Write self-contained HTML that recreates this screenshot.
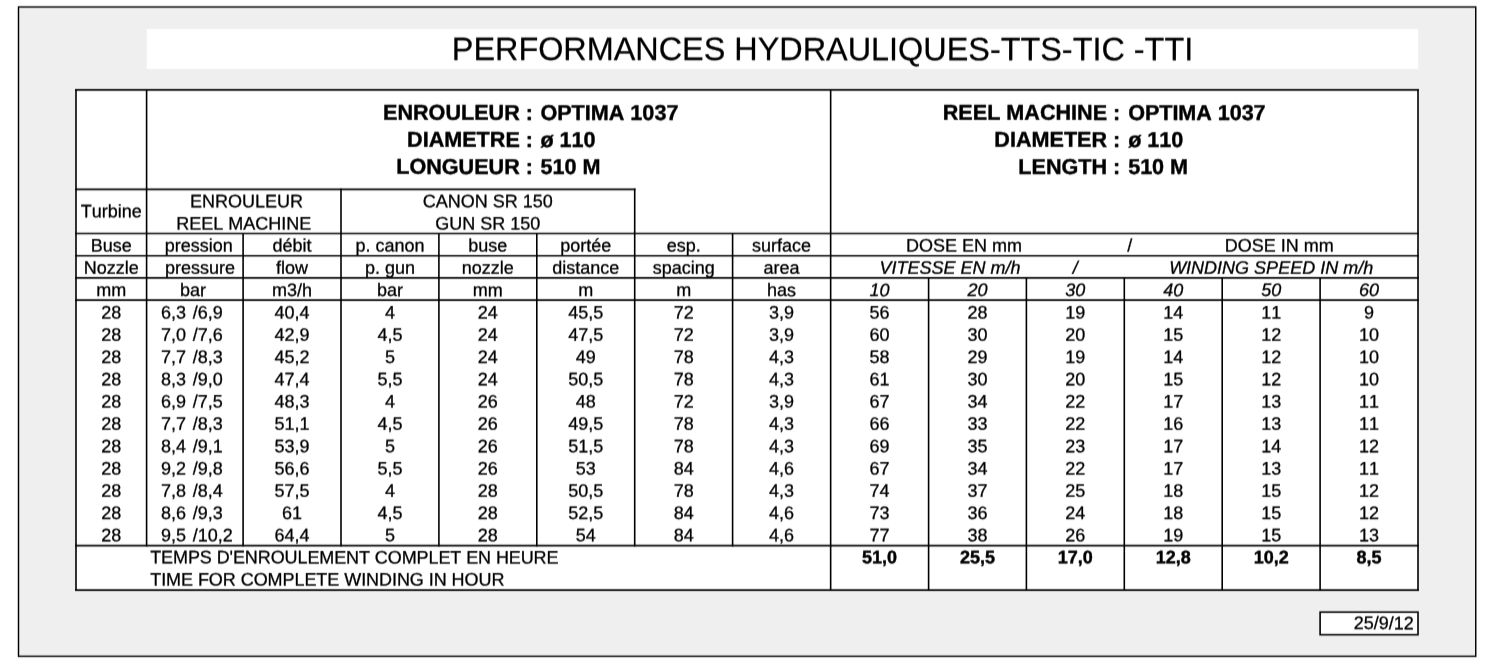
<!DOCTYPE html>
<html lang="fr">
<head>
<meta charset="utf-8">
<title>Performances hydrauliques - TTS-TIC-TTI</title>
<style>
html,body{margin:0;padding:0;background:#fff;}
body{width:1498px;height:670px;overflow:hidden;}
svg{display:block;}
text{font-family:"Liberation Sans",Arial,Helvetica,sans-serif;font-size:18.0px;fill:#000;font-kerning:none;stroke:#000;stroke-width:0.3px;stroke-linejoin:round;}
text.t{font-size:32.4px;stroke-width:0.25px;}
text.b{font-size:21.6px;font-weight:bold;stroke-width:0.42px;}
text.n{font-weight:bold;stroke-width:0.45px;}
text.i{font-style:italic;}
</style>
</head>
<body>
<svg width="1498" height="670" viewBox="0 0 1498 670">
<defs><filter id="vb" filterUnits="userSpaceOnUse" x="0" y="0" width="1498" height="670" color-interpolation-filters="sRGB"><feConvolveMatrix order="1 3" kernelMatrix="0.15 0.700 0.15" edgeMode="duplicate" preserveAlpha="true"/></filter></defs>
<rect x="0" y="0" width="1498" height="670" fill="#fff"/>
<g filter="url(#vb)">
<rect x="0" y="0" width="1498" height="670" fill="#fff"/>
<rect x="18.5" y="7" width="1457.25" height="649.35" fill="#efefef" stroke="#000" stroke-width="1.45"/>
<rect x="146.8" y="29.1" width="1271.40" height="39.80" fill="#fff"/>
<rect x="76.0" y="89.9" width="1342.00" height="500.25" fill="#fff"/>
<rect x="1320.1" y="612.15" width="97.90" height="22.55" fill="#fff" stroke="#000" stroke-width="1.6"/>
<g stroke="#000" stroke-linecap="square">
<line x1="76.00" y1="89.90" x2="1418.00" y2="89.90" stroke-width="1.6"/>
<line x1="76.00" y1="189.40" x2="634.70" y2="189.40" stroke-width="1.6"/>
<line x1="76.00" y1="233.55" x2="1418.00" y2="233.55" stroke-width="1.6"/>
<line x1="76.00" y1="255.75" x2="1418.00" y2="255.75" stroke-width="1.6"/>
<line x1="76.00" y1="277.90" x2="1418.00" y2="277.90" stroke-width="1.6"/>
<line x1="76.00" y1="300.10" x2="1418.00" y2="300.10" stroke-width="1.6"/>
<line x1="76.00" y1="545.65" x2="1418.00" y2="545.65" stroke-width="1.6"/>
<line x1="76.00" y1="590.15" x2="1418.00" y2="590.15" stroke-width="1.6"/>
<line x1="76.00" y1="89.90" x2="76.00" y2="590.15" stroke-width="1.6"/>
<line x1="146.60" y1="89.90" x2="146.60" y2="545.65" stroke-width="1.6"/>
<line x1="243.10" y1="233.70" x2="243.10" y2="545.65" stroke-width="1.6"/>
<line x1="341.00" y1="189.40" x2="341.00" y2="545.65" stroke-width="1.6"/>
<line x1="438.90" y1="233.70" x2="438.90" y2="545.65" stroke-width="1.6"/>
<line x1="536.80" y1="233.70" x2="536.80" y2="545.65" stroke-width="1.6"/>
<line x1="634.70" y1="189.40" x2="634.70" y2="545.65" stroke-width="1.6"/>
<line x1="732.60" y1="233.70" x2="732.60" y2="545.65" stroke-width="1.6"/>
<line x1="830.65" y1="89.90" x2="830.65" y2="590.15" stroke-width="1.6"/>
<line x1="928.60" y1="277.90" x2="928.60" y2="590.15" stroke-width="1.6"/>
<line x1="1026.40" y1="277.90" x2="1026.40" y2="590.15" stroke-width="1.6"/>
<line x1="1124.30" y1="277.90" x2="1124.30" y2="590.15" stroke-width="1.6"/>
<line x1="1222.20" y1="277.90" x2="1222.20" y2="590.15" stroke-width="1.6"/>
<line x1="1320.10" y1="277.90" x2="1320.10" y2="590.15" stroke-width="1.6"/>
<line x1="1418.00" y1="89.90" x2="1418.00" y2="590.15" stroke-width="1.6"/>
</g>
<text x="822.50" y="60.15" transform="rotate(0.03 822.50 60.15)" text-anchor="middle" class="t">PERFORMANCES HYDRAULIQUES-TTS-TIC -TTI</text>
<text x="533.00" y="119.90" transform="rotate(0.03 533.00 119.90)" text-anchor="end" class="b">ENROULEUR :</text>
<text x="540.40" y="119.90" transform="rotate(0.03 540.40 119.90)" class="b">OPTIMA 1037</text>
<text x="533.00" y="146.90" transform="rotate(0.03 533.00 146.90)" text-anchor="end" class="b">DIAMETRE :</text>
<text x="540.40" y="146.90" transform="rotate(0.03 540.40 146.90)" class="b">ø 110</text>
<text x="533.00" y="173.95" transform="rotate(0.03 533.00 173.95)" text-anchor="end" class="b">LONGUEUR :</text>
<text x="540.40" y="173.95" transform="rotate(0.03 540.40 173.95)" class="b">510 M</text>
<text x="1120.30" y="119.90" transform="rotate(0.03 1120.30 119.90)" text-anchor="end" class="b">REEL MACHINE :</text>
<text x="1128.20" y="119.90" transform="rotate(0.03 1128.20 119.90)" class="b" letter-spacing="-0.06">OPTIMA 1037</text>
<text x="1120.30" y="146.90" transform="rotate(0.03 1120.30 146.90)" text-anchor="end" class="b">DIAMETER :</text>
<text x="1128.20" y="146.90" transform="rotate(0.03 1128.20 146.90)" class="b" letter-spacing="-0.06">ø 110</text>
<text x="1120.30" y="173.95" transform="rotate(0.03 1120.30 173.95)" text-anchor="end" class="b">LENGTH :</text>
<text x="1128.20" y="173.95" transform="rotate(0.03 1128.20 173.95)" class="b" letter-spacing="-0.06">510 M</text>
<text x="111.30" y="217.25" transform="rotate(0.03 111.30 217.25)" text-anchor="middle">Turbine</text>
<text x="246.50" y="207.20" transform="rotate(0.03 246.50 207.20)" text-anchor="middle">ENROULEUR</text>
<text x="243.80" y="229.50" transform="rotate(0.03 243.80 229.50)" text-anchor="middle">REEL MACHINE</text>
<text x="487.85" y="207.20" transform="rotate(0.03 487.85 207.20)" text-anchor="middle">CANON SR 150</text>
<text x="487.85" y="229.50" transform="rotate(0.03 487.85 229.50)" text-anchor="middle">GUN SR 150</text>
<text x="111.30" y="251.55" transform="rotate(0.03 111.30 251.55)" text-anchor="middle">Buse</text>
<text x="198.80" y="251.55" transform="rotate(0.03 198.80 251.55)" text-anchor="middle">pression</text>
<text x="292.05" y="251.55" transform="rotate(0.03 292.05 251.55)" text-anchor="middle">débit</text>
<text x="389.95" y="251.55" transform="rotate(0.03 389.95 251.55)" text-anchor="middle">p. canon</text>
<text x="487.85" y="251.55" transform="rotate(0.03 487.85 251.55)" text-anchor="middle">buse</text>
<text x="585.75" y="251.55" transform="rotate(0.03 585.75 251.55)" text-anchor="middle">portée</text>
<text x="683.65" y="251.55" transform="rotate(0.03 683.65 251.55)" text-anchor="middle">esp.</text>
<text x="781.62" y="251.55" transform="rotate(0.03 781.62 251.55)" text-anchor="middle">surface</text>
<text x="111.30" y="273.84" transform="rotate(0.03 111.30 273.84)" text-anchor="middle">Nozzle</text>
<text x="200.00" y="273.84" transform="rotate(0.03 200.00 273.84)" text-anchor="middle">pressure</text>
<text x="292.05" y="273.84" transform="rotate(0.03 292.05 273.84)" text-anchor="middle">flow</text>
<text x="389.95" y="273.84" transform="rotate(0.03 389.95 273.84)" text-anchor="middle">p. gun</text>
<text x="487.85" y="273.84" transform="rotate(0.03 487.85 273.84)" text-anchor="middle">nozzle</text>
<text x="585.75" y="273.84" transform="rotate(0.03 585.75 273.84)" text-anchor="middle">distance</text>
<text x="683.65" y="273.84" transform="rotate(0.03 683.65 273.84)" text-anchor="middle">spacing</text>
<text x="781.62" y="273.84" transform="rotate(0.03 781.62 273.84)" text-anchor="middle">area</text>
<text x="111.30" y="296.13" transform="rotate(0.03 111.30 296.13)" text-anchor="middle">mm</text>
<text x="193.00" y="296.13" transform="rotate(0.03 193.00 296.13)" text-anchor="middle">bar</text>
<text x="292.05" y="296.13" transform="rotate(0.03 292.05 296.13)" text-anchor="middle">m3/h</text>
<text x="389.95" y="296.13" transform="rotate(0.03 389.95 296.13)" text-anchor="middle">bar</text>
<text x="487.85" y="296.13" transform="rotate(0.03 487.85 296.13)" text-anchor="middle">mm</text>
<text x="585.75" y="296.13" transform="rotate(0.03 585.75 296.13)" text-anchor="middle">m</text>
<text x="683.65" y="296.13" transform="rotate(0.03 683.65 296.13)" text-anchor="middle">m</text>
<text x="781.62" y="296.13" transform="rotate(0.03 781.62 296.13)" text-anchor="middle">has</text>
<text x="964.00" y="251.55" transform="rotate(0.03 964.00 251.55)" text-anchor="middle">DOSE EN mm</text>
<text x="1129.80" y="251.55" transform="rotate(0.03 1129.80 251.55)" text-anchor="middle">/</text>
<text x="1279.30" y="251.55" transform="rotate(0.03 1279.30 251.55)" text-anchor="middle">DOSE IN mm</text>
<text x="950.00" y="273.84" transform="rotate(0.03 950.00 273.84)" text-anchor="middle" class="i">VITESSE EN m/h</text>
<text x="1075.35" y="273.84" transform="rotate(0.03 1075.35 273.84)" text-anchor="middle" class="i">/</text>
<text x="1271.15" y="273.84" transform="rotate(0.03 1271.15 273.84)" text-anchor="middle" class="i">WINDING SPEED IN m/h</text>
<text x="879.62" y="296.13" transform="rotate(0.03 879.62 296.13)" text-anchor="middle" class="i">10</text>
<text x="977.50" y="296.13" transform="rotate(0.03 977.50 296.13)" text-anchor="middle" class="i">20</text>
<text x="1075.35" y="296.13" transform="rotate(0.03 1075.35 296.13)" text-anchor="middle" class="i">30</text>
<text x="1173.25" y="296.13" transform="rotate(0.03 1173.25 296.13)" text-anchor="middle" class="i">40</text>
<text x="1271.15" y="296.13" transform="rotate(0.03 1271.15 296.13)" text-anchor="middle" class="i">50</text>
<text x="1369.05" y="296.13" transform="rotate(0.03 1369.05 296.13)" text-anchor="middle" class="i">60</text>
<text x="111.30" y="318.42" transform="rotate(0.03 111.30 318.42)" text-anchor="middle">28</text>
<text x="161.00" y="318.42" transform="rotate(0.03 161.00 318.42)">6,3</text>
<text x="192.70" y="318.42" transform="rotate(0.03 192.70 318.42)">/6,9</text>
<text x="292.05" y="318.42" transform="rotate(0.03 292.05 318.42)" text-anchor="middle">40,4</text>
<text x="389.95" y="318.42" transform="rotate(0.03 389.95 318.42)" text-anchor="middle">4</text>
<text x="487.85" y="318.42" transform="rotate(0.03 487.85 318.42)" text-anchor="middle">24</text>
<text x="585.75" y="318.42" transform="rotate(0.03 585.75 318.42)" text-anchor="middle">45,5</text>
<text x="683.65" y="318.42" transform="rotate(0.03 683.65 318.42)" text-anchor="middle">72</text>
<text x="781.62" y="318.42" transform="rotate(0.03 781.62 318.42)" text-anchor="middle">3,9</text>
<text x="879.62" y="318.42" transform="rotate(0.03 879.62 318.42)" text-anchor="middle">56</text>
<text x="977.50" y="318.42" transform="rotate(0.03 977.50 318.42)" text-anchor="middle">28</text>
<text x="1075.35" y="318.42" transform="rotate(0.03 1075.35 318.42)" text-anchor="middle">19</text>
<text x="1173.25" y="318.42" transform="rotate(0.03 1173.25 318.42)" text-anchor="middle">14</text>
<text x="1271.15" y="318.42" transform="rotate(0.03 1271.15 318.42)" text-anchor="middle">11</text>
<text x="1369.05" y="318.42" transform="rotate(0.03 1369.05 318.42)" text-anchor="middle">9</text>
<text x="111.30" y="340.71" transform="rotate(0.03 111.30 340.71)" text-anchor="middle">28</text>
<text x="161.00" y="340.71" transform="rotate(0.03 161.00 340.71)">7,0</text>
<text x="192.70" y="340.71" transform="rotate(0.03 192.70 340.71)">/7,6</text>
<text x="292.05" y="340.71" transform="rotate(0.03 292.05 340.71)" text-anchor="middle">42,9</text>
<text x="389.95" y="340.71" transform="rotate(0.03 389.95 340.71)" text-anchor="middle">4,5</text>
<text x="487.85" y="340.71" transform="rotate(0.03 487.85 340.71)" text-anchor="middle">24</text>
<text x="585.75" y="340.71" transform="rotate(0.03 585.75 340.71)" text-anchor="middle">47,5</text>
<text x="683.65" y="340.71" transform="rotate(0.03 683.65 340.71)" text-anchor="middle">72</text>
<text x="781.62" y="340.71" transform="rotate(0.03 781.62 340.71)" text-anchor="middle">3,9</text>
<text x="879.62" y="340.71" transform="rotate(0.03 879.62 340.71)" text-anchor="middle">60</text>
<text x="977.50" y="340.71" transform="rotate(0.03 977.50 340.71)" text-anchor="middle">30</text>
<text x="1075.35" y="340.71" transform="rotate(0.03 1075.35 340.71)" text-anchor="middle">20</text>
<text x="1173.25" y="340.71" transform="rotate(0.03 1173.25 340.71)" text-anchor="middle">15</text>
<text x="1271.15" y="340.71" transform="rotate(0.03 1271.15 340.71)" text-anchor="middle">12</text>
<text x="1369.05" y="340.71" transform="rotate(0.03 1369.05 340.71)" text-anchor="middle">10</text>
<text x="111.30" y="363.00" transform="rotate(0.03 111.30 363.00)" text-anchor="middle">28</text>
<text x="161.00" y="363.00" transform="rotate(0.03 161.00 363.00)">7,7</text>
<text x="192.70" y="363.00" transform="rotate(0.03 192.70 363.00)">/8,3</text>
<text x="292.05" y="363.00" transform="rotate(0.03 292.05 363.00)" text-anchor="middle">45,2</text>
<text x="389.95" y="363.00" transform="rotate(0.03 389.95 363.00)" text-anchor="middle">5</text>
<text x="487.85" y="363.00" transform="rotate(0.03 487.85 363.00)" text-anchor="middle">24</text>
<text x="585.75" y="363.00" transform="rotate(0.03 585.75 363.00)" text-anchor="middle">49</text>
<text x="683.65" y="363.00" transform="rotate(0.03 683.65 363.00)" text-anchor="middle">78</text>
<text x="781.62" y="363.00" transform="rotate(0.03 781.62 363.00)" text-anchor="middle">4,3</text>
<text x="879.62" y="363.00" transform="rotate(0.03 879.62 363.00)" text-anchor="middle">58</text>
<text x="977.50" y="363.00" transform="rotate(0.03 977.50 363.00)" text-anchor="middle">29</text>
<text x="1075.35" y="363.00" transform="rotate(0.03 1075.35 363.00)" text-anchor="middle">19</text>
<text x="1173.25" y="363.00" transform="rotate(0.03 1173.25 363.00)" text-anchor="middle">14</text>
<text x="1271.15" y="363.00" transform="rotate(0.03 1271.15 363.00)" text-anchor="middle">12</text>
<text x="1369.05" y="363.00" transform="rotate(0.03 1369.05 363.00)" text-anchor="middle">10</text>
<text x="111.30" y="385.29" transform="rotate(0.03 111.30 385.29)" text-anchor="middle">28</text>
<text x="161.00" y="385.29" transform="rotate(0.03 161.00 385.29)">8,3</text>
<text x="192.70" y="385.29" transform="rotate(0.03 192.70 385.29)">/9,0</text>
<text x="292.05" y="385.29" transform="rotate(0.03 292.05 385.29)" text-anchor="middle">47,4</text>
<text x="389.95" y="385.29" transform="rotate(0.03 389.95 385.29)" text-anchor="middle">5,5</text>
<text x="487.85" y="385.29" transform="rotate(0.03 487.85 385.29)" text-anchor="middle">24</text>
<text x="585.75" y="385.29" transform="rotate(0.03 585.75 385.29)" text-anchor="middle">50,5</text>
<text x="683.65" y="385.29" transform="rotate(0.03 683.65 385.29)" text-anchor="middle">78</text>
<text x="781.62" y="385.29" transform="rotate(0.03 781.62 385.29)" text-anchor="middle">4,3</text>
<text x="879.62" y="385.29" transform="rotate(0.03 879.62 385.29)" text-anchor="middle">61</text>
<text x="977.50" y="385.29" transform="rotate(0.03 977.50 385.29)" text-anchor="middle">30</text>
<text x="1075.35" y="385.29" transform="rotate(0.03 1075.35 385.29)" text-anchor="middle">20</text>
<text x="1173.25" y="385.29" transform="rotate(0.03 1173.25 385.29)" text-anchor="middle">15</text>
<text x="1271.15" y="385.29" transform="rotate(0.03 1271.15 385.29)" text-anchor="middle">12</text>
<text x="1369.05" y="385.29" transform="rotate(0.03 1369.05 385.29)" text-anchor="middle">10</text>
<text x="111.30" y="407.58" transform="rotate(0.03 111.30 407.58)" text-anchor="middle">28</text>
<text x="161.00" y="407.58" transform="rotate(0.03 161.00 407.58)">6,9</text>
<text x="192.70" y="407.58" transform="rotate(0.03 192.70 407.58)">/7,5</text>
<text x="292.05" y="407.58" transform="rotate(0.03 292.05 407.58)" text-anchor="middle">48,3</text>
<text x="389.95" y="407.58" transform="rotate(0.03 389.95 407.58)" text-anchor="middle">4</text>
<text x="487.85" y="407.58" transform="rotate(0.03 487.85 407.58)" text-anchor="middle">26</text>
<text x="585.75" y="407.58" transform="rotate(0.03 585.75 407.58)" text-anchor="middle">48</text>
<text x="683.65" y="407.58" transform="rotate(0.03 683.65 407.58)" text-anchor="middle">72</text>
<text x="781.62" y="407.58" transform="rotate(0.03 781.62 407.58)" text-anchor="middle">3,9</text>
<text x="879.62" y="407.58" transform="rotate(0.03 879.62 407.58)" text-anchor="middle">67</text>
<text x="977.50" y="407.58" transform="rotate(0.03 977.50 407.58)" text-anchor="middle">34</text>
<text x="1075.35" y="407.58" transform="rotate(0.03 1075.35 407.58)" text-anchor="middle">22</text>
<text x="1173.25" y="407.58" transform="rotate(0.03 1173.25 407.58)" text-anchor="middle">17</text>
<text x="1271.15" y="407.58" transform="rotate(0.03 1271.15 407.58)" text-anchor="middle">13</text>
<text x="1369.05" y="407.58" transform="rotate(0.03 1369.05 407.58)" text-anchor="middle">11</text>
<text x="111.30" y="429.87" transform="rotate(0.03 111.30 429.87)" text-anchor="middle">28</text>
<text x="161.00" y="429.87" transform="rotate(0.03 161.00 429.87)">7,7</text>
<text x="192.70" y="429.87" transform="rotate(0.03 192.70 429.87)">/8,3</text>
<text x="292.05" y="429.87" transform="rotate(0.03 292.05 429.87)" text-anchor="middle">51,1</text>
<text x="389.95" y="429.87" transform="rotate(0.03 389.95 429.87)" text-anchor="middle">4,5</text>
<text x="487.85" y="429.87" transform="rotate(0.03 487.85 429.87)" text-anchor="middle">26</text>
<text x="585.75" y="429.87" transform="rotate(0.03 585.75 429.87)" text-anchor="middle">49,5</text>
<text x="683.65" y="429.87" transform="rotate(0.03 683.65 429.87)" text-anchor="middle">78</text>
<text x="781.62" y="429.87" transform="rotate(0.03 781.62 429.87)" text-anchor="middle">4,3</text>
<text x="879.62" y="429.87" transform="rotate(0.03 879.62 429.87)" text-anchor="middle">66</text>
<text x="977.50" y="429.87" transform="rotate(0.03 977.50 429.87)" text-anchor="middle">33</text>
<text x="1075.35" y="429.87" transform="rotate(0.03 1075.35 429.87)" text-anchor="middle">22</text>
<text x="1173.25" y="429.87" transform="rotate(0.03 1173.25 429.87)" text-anchor="middle">16</text>
<text x="1271.15" y="429.87" transform="rotate(0.03 1271.15 429.87)" text-anchor="middle">13</text>
<text x="1369.05" y="429.87" transform="rotate(0.03 1369.05 429.87)" text-anchor="middle">11</text>
<text x="111.30" y="452.16" transform="rotate(0.03 111.30 452.16)" text-anchor="middle">28</text>
<text x="161.00" y="452.16" transform="rotate(0.03 161.00 452.16)">8,4</text>
<text x="192.70" y="452.16" transform="rotate(0.03 192.70 452.16)">/9,1</text>
<text x="292.05" y="452.16" transform="rotate(0.03 292.05 452.16)" text-anchor="middle">53,9</text>
<text x="389.95" y="452.16" transform="rotate(0.03 389.95 452.16)" text-anchor="middle">5</text>
<text x="487.85" y="452.16" transform="rotate(0.03 487.85 452.16)" text-anchor="middle">26</text>
<text x="585.75" y="452.16" transform="rotate(0.03 585.75 452.16)" text-anchor="middle">51,5</text>
<text x="683.65" y="452.16" transform="rotate(0.03 683.65 452.16)" text-anchor="middle">78</text>
<text x="781.62" y="452.16" transform="rotate(0.03 781.62 452.16)" text-anchor="middle">4,3</text>
<text x="879.62" y="452.16" transform="rotate(0.03 879.62 452.16)" text-anchor="middle">69</text>
<text x="977.50" y="452.16" transform="rotate(0.03 977.50 452.16)" text-anchor="middle">35</text>
<text x="1075.35" y="452.16" transform="rotate(0.03 1075.35 452.16)" text-anchor="middle">23</text>
<text x="1173.25" y="452.16" transform="rotate(0.03 1173.25 452.16)" text-anchor="middle">17</text>
<text x="1271.15" y="452.16" transform="rotate(0.03 1271.15 452.16)" text-anchor="middle">14</text>
<text x="1369.05" y="452.16" transform="rotate(0.03 1369.05 452.16)" text-anchor="middle">12</text>
<text x="111.30" y="474.45" transform="rotate(0.03 111.30 474.45)" text-anchor="middle">28</text>
<text x="161.00" y="474.45" transform="rotate(0.03 161.00 474.45)">9,2</text>
<text x="192.70" y="474.45" transform="rotate(0.03 192.70 474.45)">/9,8</text>
<text x="292.05" y="474.45" transform="rotate(0.03 292.05 474.45)" text-anchor="middle">56,6</text>
<text x="389.95" y="474.45" transform="rotate(0.03 389.95 474.45)" text-anchor="middle">5,5</text>
<text x="487.85" y="474.45" transform="rotate(0.03 487.85 474.45)" text-anchor="middle">26</text>
<text x="585.75" y="474.45" transform="rotate(0.03 585.75 474.45)" text-anchor="middle">53</text>
<text x="683.65" y="474.45" transform="rotate(0.03 683.65 474.45)" text-anchor="middle">84</text>
<text x="781.62" y="474.45" transform="rotate(0.03 781.62 474.45)" text-anchor="middle">4,6</text>
<text x="879.62" y="474.45" transform="rotate(0.03 879.62 474.45)" text-anchor="middle">67</text>
<text x="977.50" y="474.45" transform="rotate(0.03 977.50 474.45)" text-anchor="middle">34</text>
<text x="1075.35" y="474.45" transform="rotate(0.03 1075.35 474.45)" text-anchor="middle">22</text>
<text x="1173.25" y="474.45" transform="rotate(0.03 1173.25 474.45)" text-anchor="middle">17</text>
<text x="1271.15" y="474.45" transform="rotate(0.03 1271.15 474.45)" text-anchor="middle">13</text>
<text x="1369.05" y="474.45" transform="rotate(0.03 1369.05 474.45)" text-anchor="middle">11</text>
<text x="111.30" y="496.74" transform="rotate(0.03 111.30 496.74)" text-anchor="middle">28</text>
<text x="161.00" y="496.74" transform="rotate(0.03 161.00 496.74)">7,8</text>
<text x="192.70" y="496.74" transform="rotate(0.03 192.70 496.74)">/8,4</text>
<text x="292.05" y="496.74" transform="rotate(0.03 292.05 496.74)" text-anchor="middle">57,5</text>
<text x="389.95" y="496.74" transform="rotate(0.03 389.95 496.74)" text-anchor="middle">4</text>
<text x="487.85" y="496.74" transform="rotate(0.03 487.85 496.74)" text-anchor="middle">28</text>
<text x="585.75" y="496.74" transform="rotate(0.03 585.75 496.74)" text-anchor="middle">50,5</text>
<text x="683.65" y="496.74" transform="rotate(0.03 683.65 496.74)" text-anchor="middle">78</text>
<text x="781.62" y="496.74" transform="rotate(0.03 781.62 496.74)" text-anchor="middle">4,3</text>
<text x="879.62" y="496.74" transform="rotate(0.03 879.62 496.74)" text-anchor="middle">74</text>
<text x="977.50" y="496.74" transform="rotate(0.03 977.50 496.74)" text-anchor="middle">37</text>
<text x="1075.35" y="496.74" transform="rotate(0.03 1075.35 496.74)" text-anchor="middle">25</text>
<text x="1173.25" y="496.74" transform="rotate(0.03 1173.25 496.74)" text-anchor="middle">18</text>
<text x="1271.15" y="496.74" transform="rotate(0.03 1271.15 496.74)" text-anchor="middle">15</text>
<text x="1369.05" y="496.74" transform="rotate(0.03 1369.05 496.74)" text-anchor="middle">12</text>
<text x="111.30" y="519.03" transform="rotate(0.03 111.30 519.03)" text-anchor="middle">28</text>
<text x="161.00" y="519.03" transform="rotate(0.03 161.00 519.03)">8,6</text>
<text x="192.70" y="519.03" transform="rotate(0.03 192.70 519.03)">/9,3</text>
<text x="292.05" y="519.03" transform="rotate(0.03 292.05 519.03)" text-anchor="middle">61</text>
<text x="389.95" y="519.03" transform="rotate(0.03 389.95 519.03)" text-anchor="middle">4,5</text>
<text x="487.85" y="519.03" transform="rotate(0.03 487.85 519.03)" text-anchor="middle">28</text>
<text x="585.75" y="519.03" transform="rotate(0.03 585.75 519.03)" text-anchor="middle">52,5</text>
<text x="683.65" y="519.03" transform="rotate(0.03 683.65 519.03)" text-anchor="middle">84</text>
<text x="781.62" y="519.03" transform="rotate(0.03 781.62 519.03)" text-anchor="middle">4,6</text>
<text x="879.62" y="519.03" transform="rotate(0.03 879.62 519.03)" text-anchor="middle">73</text>
<text x="977.50" y="519.03" transform="rotate(0.03 977.50 519.03)" text-anchor="middle">36</text>
<text x="1075.35" y="519.03" transform="rotate(0.03 1075.35 519.03)" text-anchor="middle">24</text>
<text x="1173.25" y="519.03" transform="rotate(0.03 1173.25 519.03)" text-anchor="middle">18</text>
<text x="1271.15" y="519.03" transform="rotate(0.03 1271.15 519.03)" text-anchor="middle">15</text>
<text x="1369.05" y="519.03" transform="rotate(0.03 1369.05 519.03)" text-anchor="middle">12</text>
<text x="111.30" y="541.32" transform="rotate(0.03 111.30 541.32)" text-anchor="middle">28</text>
<text x="161.00" y="541.32" transform="rotate(0.03 161.00 541.32)">9,5</text>
<text x="192.70" y="541.32" transform="rotate(0.03 192.70 541.32)">/10,2</text>
<text x="292.05" y="541.32" transform="rotate(0.03 292.05 541.32)" text-anchor="middle">64,4</text>
<text x="389.95" y="541.32" transform="rotate(0.03 389.95 541.32)" text-anchor="middle">5</text>
<text x="487.85" y="541.32" transform="rotate(0.03 487.85 541.32)" text-anchor="middle">28</text>
<text x="585.75" y="541.32" transform="rotate(0.03 585.75 541.32)" text-anchor="middle">54</text>
<text x="683.65" y="541.32" transform="rotate(0.03 683.65 541.32)" text-anchor="middle">84</text>
<text x="781.62" y="541.32" transform="rotate(0.03 781.62 541.32)" text-anchor="middle">4,6</text>
<text x="879.62" y="541.32" transform="rotate(0.03 879.62 541.32)" text-anchor="middle">77</text>
<text x="977.50" y="541.32" transform="rotate(0.03 977.50 541.32)" text-anchor="middle">38</text>
<text x="1075.35" y="541.32" transform="rotate(0.03 1075.35 541.32)" text-anchor="middle">26</text>
<text x="1173.25" y="541.32" transform="rotate(0.03 1173.25 541.32)" text-anchor="middle">19</text>
<text x="1271.15" y="541.32" transform="rotate(0.03 1271.15 541.32)" text-anchor="middle">15</text>
<text x="1369.05" y="541.32" transform="rotate(0.03 1369.05 541.32)" text-anchor="middle">13</text>
<text x="150.20" y="563.30" transform="rotate(0.03 150.20 563.30)" letter-spacing="-0.09">TEMPS D'ENROULEMENT COMPLET EN HEURE</text>
<text x="150.20" y="585.45" transform="rotate(0.03 150.20 585.45)" letter-spacing="-0.055">TIME FOR COMPLETE WINDING IN HOUR</text>
<text x="879.62" y="563.20" transform="rotate(0.03 879.62 563.20)" text-anchor="middle" class="n">51,0</text>
<text x="977.50" y="563.20" transform="rotate(0.03 977.50 563.20)" text-anchor="middle" class="n">25,5</text>
<text x="1075.35" y="563.20" transform="rotate(0.03 1075.35 563.20)" text-anchor="middle" class="n">17,0</text>
<text x="1173.25" y="563.20" transform="rotate(0.03 1173.25 563.20)" text-anchor="middle" class="n">12,8</text>
<text x="1271.15" y="563.20" transform="rotate(0.03 1271.15 563.20)" text-anchor="middle" class="n">10,2</text>
<text x="1369.05" y="563.20" transform="rotate(0.03 1369.05 563.20)" text-anchor="middle" class="n">8,5</text>
<text x="1413.90" y="629.15" transform="rotate(0.03 1413.90 629.15)" text-anchor="end">25/9/12</text>
</g>
</svg>
</body>
</html>
